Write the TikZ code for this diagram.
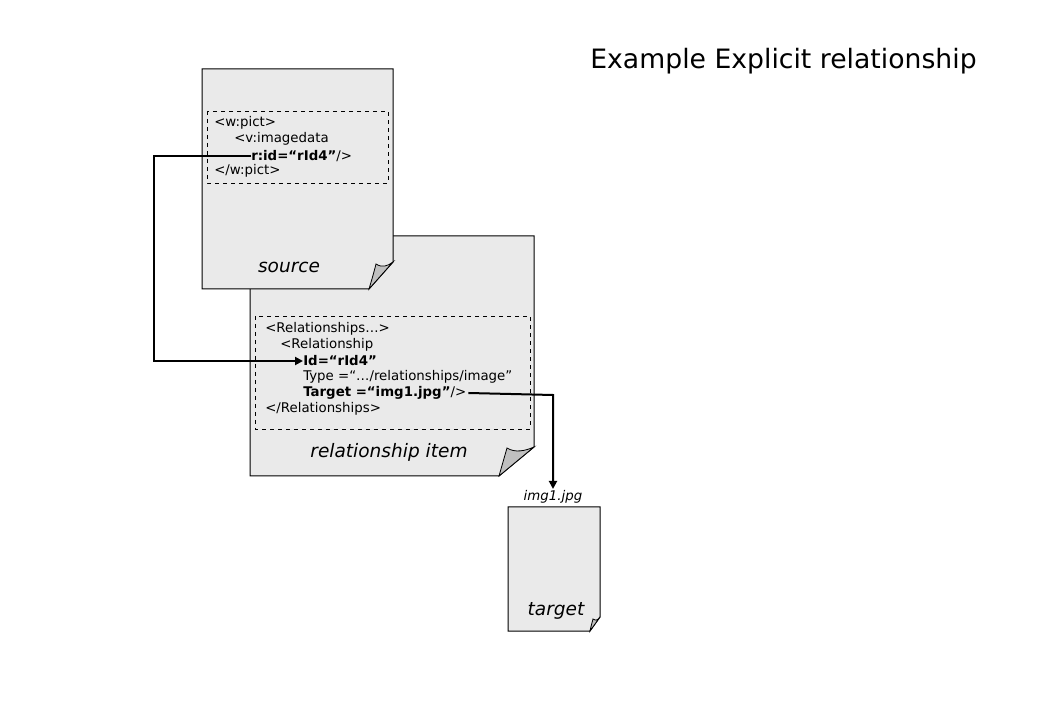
\documentclass[tikz,border=0pt]{standalone}
\usepackage{fontspec}
\setmainfont{DejaVu Sans}
\usetikzlibrary{arrows.meta}
\definecolor{pagefill}{HTML}{EAEAEA}
\definecolor{foldfill}{HTML}{C0C0C0}
\tikzset{
  page/.style={draw=black, fill=pagefill, line width=0.75pt},
  fold/.style={draw=black, fill=foldfill, line width=0.6pt},
  dbox/.style={draw=black, dashed, line width=0.6pt},
  code/.style={font=\fontsize{10}{12}\selectfont, anchor=west, inner sep=0pt},
  plabel/.style={font=\fontsize{13.9}{16}\selectfont\itshape, inner sep=0pt},
  conn/.style={line width=1.5pt, -{Triangle[length=6pt,width=6pt]}},
}
\begin{document}
\begin{tikzpicture}[x=0.75pt,y=-0.75pt]
\useasboundingbox (0,0) rectangle (1040,720);
% title
\node[font=\fontsize{20}{24}\selectfont, inner sep=0pt] (title) at (783.5,61) {Example Explicit relationship};

% relationship item page (drawn first, behind source)
\path[page] (250,236) -- (534,236) -- (534,447) -- (499,476) -- (250,476) -- cycle;
\path[fold] (534,447) -- (499,476) .. controls (503,462) and (505,455) .. (507,448) .. controls (515,453) and (525,451) .. cycle;
\draw[dbox] (255,316) rectangle (530,429);
\node[plabel] (rlabel) at (389,452) {relationship item};
\node[code] (r1) at (265,329) {<Relationships…>};
\node[code] (r2) at (280,345) {<Relationship};
\node[code] (r3) at (303,361) {\textbf{Id=“rId4”}};
\node[code] (r4) at (303,377) {Type =“…/relationships/image”};
\node[code] (r5) at (303,393) {\textbf{Target =“img1.jpg”}/>};
\node[code] (r6) at (265,409) {</Relationships>};

% source page
\path[page] (202,69) -- (393,69) -- (393,262) -- (369,289) -- (202,289) -- cycle;
\path[fold] (393,262) -- (369,289) .. controls (372,279) and (374,272) .. (376,264) .. controls (382,268) and (388,266) .. cycle;
\draw[dbox] (207,111) rectangle (388,183);
\node[plabel] (slabel) at (289,267) {source};
\node[code] (s1) at (214,123) {<w:pict>};
\node[code] (s2) at (234,139) {<v:imagedata};
\node[code] (s3) at (251,156) {\textbf{r:id=“rId4”}/>};
\node[code] (s4) at (214,171) {</w:pict>};

% target page
\path[page] (508,507) -- (600,507) -- (600,617) -- (590,631) -- (508,631) -- cycle;
\path[fold] (600,617) -- (590,631) .. controls (591,626) and (592,623) .. (593,619) .. controls (596,621) and (598,620) .. cycle;
\node[plabel] (tlabel) at (556,611) {target};
\node[font=\fontsize{10}{12}\selectfont\itshape, inner sep=0pt] (tname) at (553,497) {img1.jpg};

% connectors
\coordinate (c1) at (154,156);
\coordinate (c2) at (154,361);
\draw[conn] (s3.west) -- (c1) -- (c2) -- (r3.west);
\coordinate (c3) at (553,395);
\draw[conn] ([xshift=1.5pt]r5.east) -- (c3) -- ([yshift=1pt]tname.north);
\end{tikzpicture}
\end{document}
